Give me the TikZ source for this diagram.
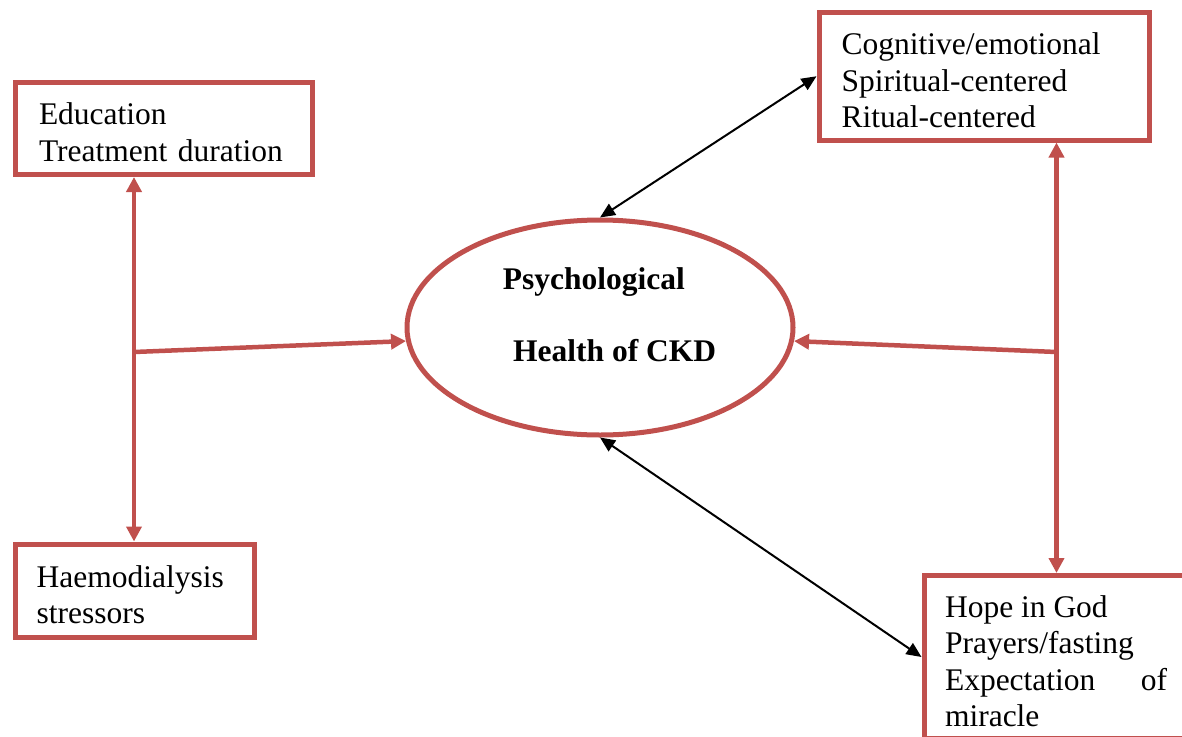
\documentclass[tikz,border=0pt]{standalone}
\usepackage{fontspec}
\setmainfont{Liberation Serif}
\usetikzlibrary{shapes.geometric,arrows.meta}
\definecolor{boxred}{HTML}{C0504D}
\begin{document}
\begin{tikzpicture}[x=1pt,y=-1pt,
  factorbox/.style={draw=boxred, line width=5pt, rectangle, align=left, inner sep=0pt,
    font=\fontsize{31.5}{36.5}\selectfont, execute at begin node={\rule{0pt}{30pt}}},
  redarrow/.style={draw=boxred, line width=4.5pt, >={Triangle[length=15pt,width=15pt]}},
  blackarrow/.style={draw=black, line width=2pt, >={Triangle[length=15pt,width=13pt]}}]
\useasboundingbox (0,0) rectangle (1182,736);
\clip (0,0) rectangle (1182,736);

\node[factorbox, minimum width=297.5, minimum height=92.5, text width=249.5] (ed) at (163.75,128.25) {Education\\Treatment duration};
\node[factorbox, minimum width=239, minimum height=93.5, text width=195.6] (hd) at (134.5,590.75) {Haemodialysis\\stressors};
\node[factorbox, minimum width=330, minimum height=127.5, text width=284.6] (cg) at (984,76.25) {Cognitive/emotional\\Spiritual-centered\\Ritual-centered};
\node[factorbox, minimum width=264, minimum height=163, text width=222, align=justify] (hp) at (1056,657) {Hope in God\\Prayers/fasting\\Expectation of miracle};

\node[draw=boxred, line width=5pt, ellipse, minimum width=386, minimum height=215] (el) at (600,327.5) {};
\node[anchor=base west, inner sep=0pt, font=\fontsize{31.5}{36.5}\selectfont\bfseries] (ps) at (502.7,289.3) {Psychological};
\node[anchor=base west, inner sep=0pt, font=\fontsize{31.5}{36.5}\selectfont\bfseries] (hc) at (513,361.7) {Health of CKD};

\coordinate (lj) at (134,352);
\coordinate (rj) at (1056.5,352);

\path[redarrow,<->] (ed.south -| lj) -- (hd.north -| lj);
\path[redarrow,->] (lj) -- (el.184);
\path[redarrow,<->] (cg.south -| rj) -- (hp.north -| rj);
\path[redarrow,->] (rj) -- (el.356);
\path[blackarrow,<->] (cg.west) -- (el.north);
\path[blackarrow,<->] (el.south) -- (hp.west);
\end{tikzpicture}
\end{document}
